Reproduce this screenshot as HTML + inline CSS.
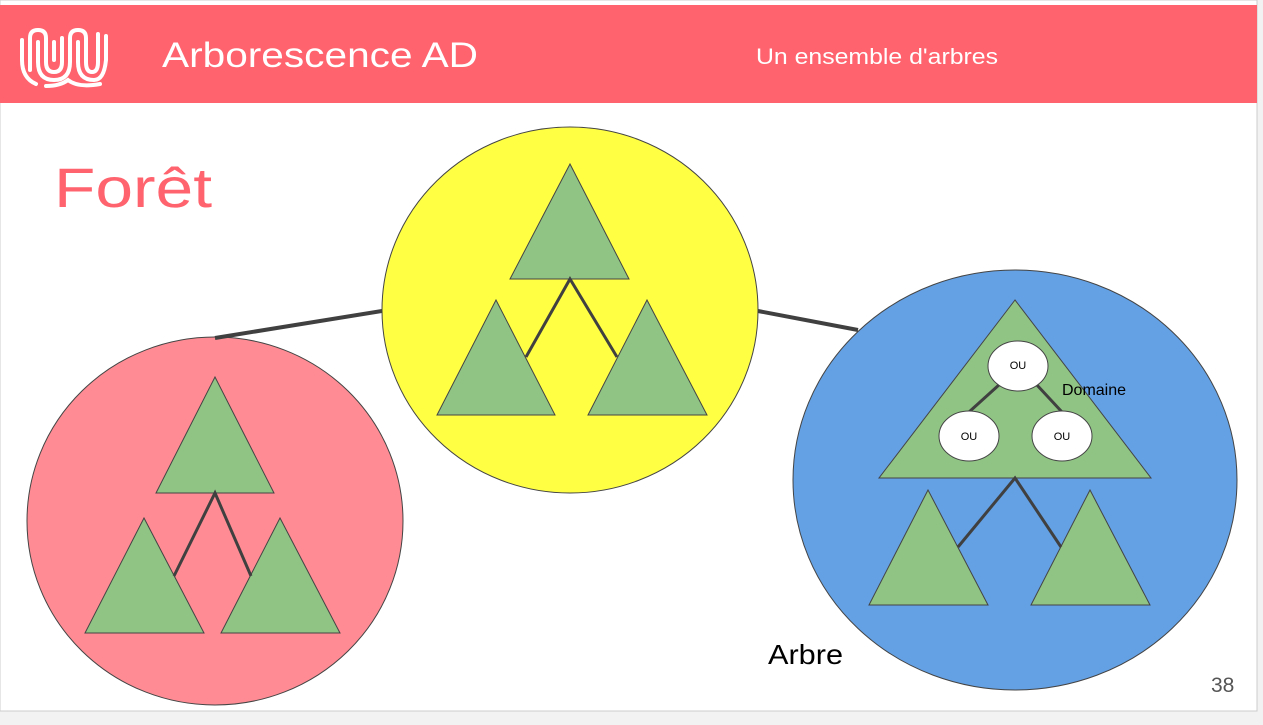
<!DOCTYPE html>
<html><head><style>
body{margin:0;background:#f2f2f2;width:1263px;height:720px;overflow:hidden;font-family:"Liberation Sans",sans-serif}
</style></head><body>
<svg width="1263" height="720" xmlns="http://www.w3.org/2000/svg">
<rect x="0" y="0" width="1257" height="711" fill="#fff" stroke="#ccc"/>
<rect x="0" y="5" width="1257" height="98" fill="#ff636e"/>
<g fill="none" stroke="#fff" stroke-width="4" stroke-linecap="round">
<path d="M22 40 V60 Q22 78 36 84"/>
<path d="M30 70 V38 Q30 30 38 30 Q46 30 46 38 V62 Q46 72 54 72 Q62 72 62 62 V38"/>
<path d="M38 42 V62 Q38 80 54 80 Q70 80 70 62 V38 Q70 30 78 30 Q86 30 86 38 V62 Q86 72 92 72 Q98 72 98 62 V34"/>
<path d="M54 42 V60"/><path d="M78 42 V62 Q78 80 94 80 Q104 80 106 60 V36"/>
<path d="M46 86 Q60 86 68 80 Q78 88 100 84"/>
</g>
<text x="162" y="67" font-size="35" fill="#fff" textLength="316" lengthAdjust="spacingAndGlyphs">Arborescence AD</text>
<text x="756" y="64" font-size="22" fill="#fff" textLength="242" lengthAdjust="spacingAndGlyphs">Un ensemble d'arbres</text>
<text x="54" y="207" font-size="56" fill="#ff636e" textLength="158" lengthAdjust="spacingAndGlyphs">Forêt</text>
<g stroke="#444" stroke-width="1">
<ellipse cx="215" cy="521" rx="188" ry="184" fill="#ff8c94"/>
<ellipse cx="570" cy="310" rx="188" ry="183" fill="#ffff44"/>
<ellipse cx="1015" cy="480" rx="222" ry="210" fill="#63a0e4"/>
</g>
<g stroke="#404040" stroke-width="4"><line x1="215" y1="338" x2="382" y2="311"/><line x1="758" y1="311" x2="858" y2="330"/></g>
<g fill="#90c485" stroke="#444" stroke-width="1">
<polygon points="570,164 510,279 629,279"/><polygon points="496,300 437,415 555,415"/><polygon points="647,300 588,415 707,415"/>
<polygon points="215,377 156,493 274,493"/><polygon points="144,518 85,633 204,633"/><polygon points="280,518 221,633 340,633"/>
<polygon points="1015,300 879,478 1151,478"/><polygon points="928,490 869,605 988,605"/><polygon points="1090,490 1031,605 1150,605"/>
</g>
<g stroke="#404040" stroke-width="3" fill="none">
<path d="M526 357 L570 279 L617 357"/><path d="M174 576 L215 493 L251 576"/><path d="M958 547 L1015 478 L1061 547"/>
<path d="M969 412 L1000 384 M1062 412 L1036 384"/>
</g>
<g fill="#fff" stroke="#444"><ellipse cx="1018" cy="366" rx="30" ry="25"/><ellipse cx="969" cy="436" rx="30" ry="25"/><ellipse cx="1062" cy="436" rx="30" ry="25"/></g>
<g font-size="11" text-anchor="middle" fill="#000"><text x="1018" y="369">OU</text><text x="969" y="440">OU</text><text x="1062" y="440">OU</text></g>
<text x="1062" y="395" font-size="16">Domaine</text>
<text x="768" y="664" font-size="28" textLength="75" lengthAdjust="spacingAndGlyphs">Arbre</text>
<text x="1211" y="692" font-size="21" fill="#555">38</text>
</svg>
</body></html>
